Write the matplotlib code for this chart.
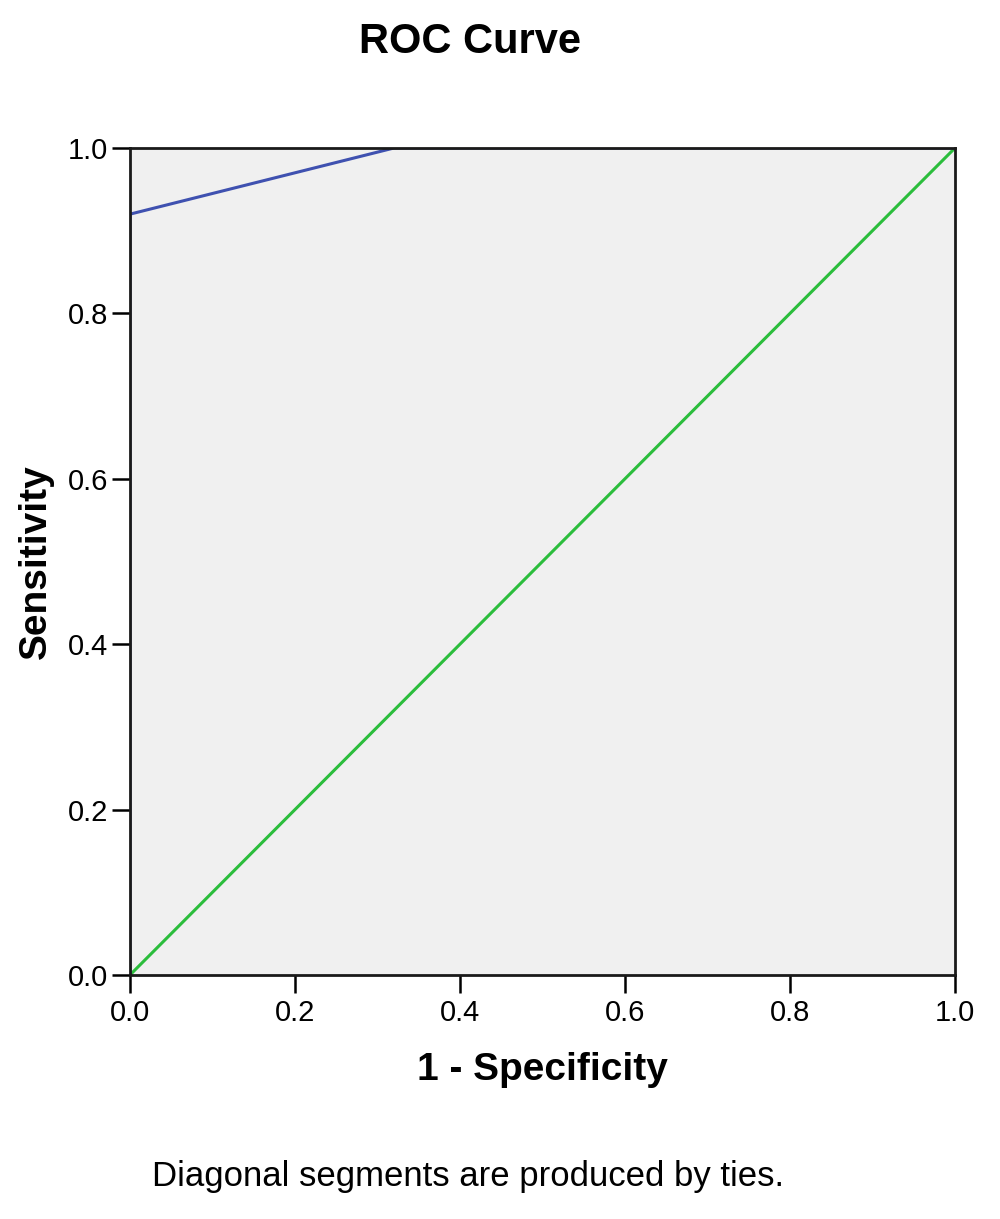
import matplotlib.pyplot as plt

# ROC points (1 - specificity, sensitivity)
fpr = [0.0, 0.0, 0.32, 1.0]
tpr = [0.0, 0.92, 1.0, 1.0]

# reference line
ref_x = [0.0, 1.0]
ref_y = [0.0, 1.0]

ticks = [0.0, 0.2, 0.4, 0.6, 0.8, 1.0]
tick_labels = ["0.0", "0.2", "0.4", "0.6", "0.8", "1.0"]

plt.rcParams['font.family'] = ['Liberation Sans', 'DejaVu Sans']

fig = plt.figure(figsize=(10, 12.19), dpi=100)
ax = fig.add_axes([0.13, 0.2002, 0.825, 0.6784])
ax.set_facecolor('#f0f0f0')

ax.plot(ref_x, ref_y, color='#2bbd3c', lw=2.2, zorder=2)
ax.plot(fpr, tpr, color='#3f51b0', lw=2.2, zorder=3)

ax.set_xlim(0, 1)
ax.set_ylim(0, 1)
ax.set_xticks(ticks)
ax.set_xticklabels(tick_labels)
ax.set_yticks(ticks)
ax.set_yticklabels(tick_labels)
ax.tick_params(axis='both', direction='out', length=13, width=1.8,
               labelsize=21, colors='black')
ax.tick_params(axis='x', pad=4)
ax.tick_params(axis='y', pad=3)

for s in ax.spines.values():
    s.set_linewidth(2)
    s.set_color('#1a1a1a')
    s.set_zorder(4)

ax.set_xlabel("1 - Specificity", fontsize=28, fontweight='bold', labelpad=18)
ax.set_ylabel("Sensitivity", fontsize=28, fontweight='bold', labelpad=10)

fig.text(0.47, 0.9655, "ROC Curve", fontsize=30, fontweight='bold',
         ha='center', va='center')
fig.text(0.468, 0.035, "Diagonal segments are produced by ties.",
         fontsize=25, ha='center', va='center')

fig.savefig("out.png", dpi=100)
